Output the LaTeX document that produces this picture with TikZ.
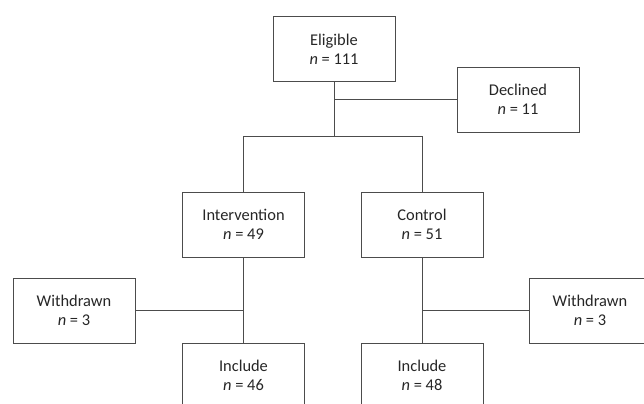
\documentclass[tikz,border=0pt]{standalone}
\usepackage{fontspec}
\setmainfont{Carlito}
\usetikzlibrary{positioning}
\tikzset{
	box/.style={draw=black!70, line width=0.8pt, minimum width=3.66cm, minimum height=1.95cm,
		align=center, font=\fontsize{14}{16.5}\selectfont, text=black!85, inner sep=0pt},
	linea/.style={draw=black!70, line width=0.8pt}
}
\begin{document}
\begin{tikzpicture}[x=0.03cm, y=-0.03cm]
		\path[use as bounding box, clip] (0,0) rectangle (644,404);
		% eleggibili
		\node[box] (eligible) at (334, 49) {Eligible\\\textit{n} = 111};
		\node[box] (declined) at (518, 99.5) {Declined\\\textit{n} = 11};
		\coordinate (split) at (334, 136);
		% gruppi
		\node[box] (intervention) at (243.5, 224.5) {Intervention\\\textit{n} = 49};
		\node[box] (control) at (422, 224.5) {Control\\\textit{n} = 51};
		% ritirati
		\node[box] (withdrawnA) at (74, 310.5) {Withdrawn\\\textit{n} = 3};
		\node[box] (withdrawnB) at (590, 310.5) {Withdrawn\\\textit{n} = 3};
		% inclusi
		\node[box] (includeA) at (243.5, 375.5) {Include\\\textit{n} = 46};
		\node[box] (includeB) at (422, 375.5) {Include\\\textit{n} = 48};

		\draw[linea] (eligible.south) -- (split);
		\draw[linea] (eligible.south |- declined.west) -- (declined.west);
		\draw[linea] (intervention.north) -- (intervention.north |- split) -- (control.north |- split) -- (control.north);

		\draw[linea] (intervention.south) -- (includeA.north);
		\draw[linea] (control.south) -- (includeB.north);
		\draw[linea] (withdrawnA.east) -- (withdrawnA.east -| intervention.south);
		\draw[linea] (withdrawnB.west) -- (withdrawnB.west -| control.south);
	\end{tikzpicture}
\end{document}
